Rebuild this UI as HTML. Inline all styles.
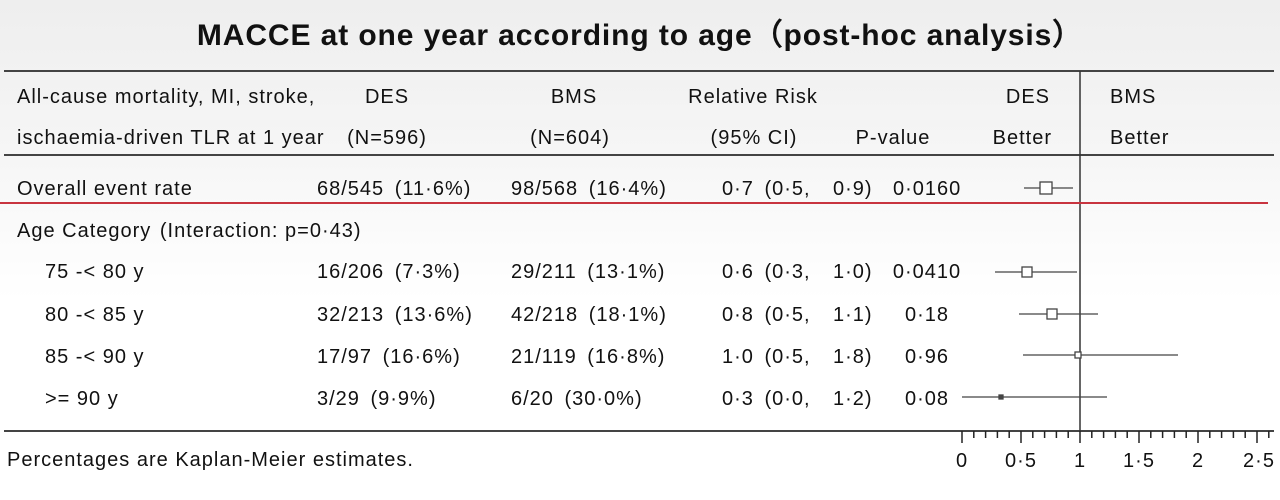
<!DOCTYPE html>
<html><head><meta charset="utf-8"><style>
html,body{margin:0;padding:0;background:#fff}
svg{display:block}
text{font-family:"Liberation Sans",sans-serif;font-size:20px;letter-spacing:1px;fill:#111}
</style></head><body>
<svg width="1280" height="500" viewBox="0 0 1280 500" xmlns="http://www.w3.org/2000/svg">
<defs><linearGradient id="bg" x1="0" y1="0" x2="0" y2="1">
<stop offset="0" stop-color="#eeeeee"/><stop offset="0.35" stop-color="#f7f7f7"/><stop offset="0.6" stop-color="#ffffff"/></linearGradient></defs>
<rect width="1280" height="500" fill="url(#bg)"/>
<text x="640" y="45" text-anchor="middle" style="font-size:30px;font-weight:bold;letter-spacing:0.9px">MACCE at one year according to age（post-hoc analysis）</text>
<line x1="4" y1="71" x2="1274" y2="71" stroke="#444" stroke-width="2"/>
<line x1="4" y1="155" x2="1274" y2="155" stroke="#444" stroke-width="2"/>
<line x1="4" y1="431" x2="1274" y2="431" stroke="#444" stroke-width="2"/>
<line x1="1080" y1="71" x2="1080" y2="431" stroke="#333" stroke-width="1.5"/>
<line x1="0" y1="203" x2="1268" y2="203" stroke="#c8343f" stroke-width="2"/>
<text x="17" y="103">All-cause mortality, MI, stroke,</text>
<text x="17" y="144">ischaemia-driven TLR at 1 year</text>
<text x="387" y="103" text-anchor="middle">DES</text>
<text x="387" y="144" text-anchor="middle">(N=596)</text>
<text x="574" y="103" text-anchor="middle">BMS</text>
<text x="570" y="144" text-anchor="middle">(N=604)</text>
<text x="753" y="103" text-anchor="middle">Relative Risk</text>
<text x="754" y="144" text-anchor="middle">(95% CI)</text>
<text x="893" y="144" text-anchor="middle">P-value</text>
<text x="1050" y="103" text-anchor="end">DES</text>
<text x="1052" y="144" text-anchor="end">Better</text>
<text x="1110" y="103">BMS</text>
<text x="1110" y="144">Better</text>
<text x="17" y="195">Overall event rate</text>
<text x="317" y="195">68/545 <tspan dx="4">(11·6%)</tspan></text>
<text x="511" y="195">98/568 <tspan dx="4">(16·4%)</tspan></text>
<text x="722" y="195">0·7 <tspan dx="4">(0·5,</tspan></text><text x="833" y="195">0·9)</text>
<text x="893" y="195">0·0160</text>
<text x="17" y="237">Age Category <tspan dx="2">(Interaction: p=0·43)</tspan></text>
<text x="45" y="278">75 -&lt; 80 y</text>
<text x="317" y="278">16/206 <tspan dx="4">(7·3%)</tspan></text>
<text x="511" y="278">29/211 <tspan dx="4">(13·1%)</tspan></text>
<text x="722" y="278">0·6 <tspan dx="4">(0·3,</tspan></text><text x="833" y="278">1·0)</text>
<text x="927" y="278" text-anchor="middle">0·0410</text>
<text x="45" y="321">80 -&lt; 85 y</text>
<text x="317" y="321">32/213 <tspan dx="4">(13·6%)</tspan></text>
<text x="511" y="321">42/218 <tspan dx="4">(18·1%)</tspan></text>
<text x="722" y="321">0·8 <tspan dx="4">(0·5,</tspan></text><text x="833" y="321">1·1)</text>
<text x="927" y="321" text-anchor="middle">0·18</text>
<text x="45" y="363">85 -&lt; 90 y</text>
<text x="317" y="363">17/97 <tspan dx="4">(16·6%)</tspan></text>
<text x="511" y="363">21/119 <tspan dx="4">(16·8%)</tspan></text>
<text x="722" y="363">1·0 <tspan dx="4">(0·5,</tspan></text><text x="833" y="363">1·8)</text>
<text x="927" y="363" text-anchor="middle">0·96</text>
<text x="45" y="405">&gt;= 90 y</text>
<text x="317" y="405">3/29 <tspan dx="4">(9·9%)</tspan></text>
<text x="511" y="405">6/20 <tspan dx="4">(30·0%)</tspan></text>
<text x="722" y="405">0·3 <tspan dx="4">(0·0,</tspan></text><text x="833" y="405">1·2)</text>
<text x="927" y="405" text-anchor="middle">0·08</text>
<text x="7" y="466">Percentages are Kaplan-Meier estimates.</text>
<g stroke="#444" stroke-width="1.3" fill="none">
<line x1="1024" y1="188" x2="1073" y2="188"/><rect x="1040" y="182" width="12" height="12" fill="#fff"/>
<line x1="995" y1="272" x2="1077" y2="272"/><rect x="1022" y="267" width="10" height="10" fill="#fff"/>
<line x1="1019" y1="314" x2="1098" y2="314"/><rect x="1047" y="309" width="10" height="10" fill="#fff"/>
<line x1="1023" y1="355" x2="1178" y2="355"/><rect x="1075" y="352" width="6" height="6" fill="#fff"/>
<line x1="962" y1="397" x2="1107" y2="397"/><rect x="999" y="395" width="4" height="4" fill="#444"/>
</g>
<g stroke="#222" stroke-width="1.5">
<line x1="962" y1="431" x2="962" y2="443"/><line x1="973.8" y1="431" x2="973.8" y2="438"/><line x1="985.6" y1="431" x2="985.6" y2="438"/><line x1="997.4" y1="431" x2="997.4" y2="438"/><line x1="1009.2" y1="431" x2="1009.2" y2="438"/><line x1="1021" y1="431" x2="1021" y2="443"/><line x1="1032.8" y1="431" x2="1032.8" y2="438"/><line x1="1044.6" y1="431" x2="1044.6" y2="438"/><line x1="1056.4" y1="431" x2="1056.4" y2="438"/><line x1="1068.2" y1="431" x2="1068.2" y2="438"/><line x1="1080" y1="431" x2="1080" y2="443"/><line x1="1091.8" y1="431" x2="1091.8" y2="438"/><line x1="1103.6" y1="431" x2="1103.6" y2="438"/><line x1="1115.4" y1="431" x2="1115.4" y2="438"/><line x1="1127.2" y1="431" x2="1127.2" y2="438"/><line x1="1139" y1="431" x2="1139" y2="443"/><line x1="1150.8" y1="431" x2="1150.8" y2="438"/><line x1="1162.6" y1="431" x2="1162.6" y2="438"/><line x1="1174.4" y1="431" x2="1174.4" y2="438"/><line x1="1186.2" y1="431" x2="1186.2" y2="438"/><line x1="1198" y1="431" x2="1198" y2="443"/><line x1="1209.8" y1="431" x2="1209.8" y2="438"/><line x1="1221.6" y1="431" x2="1221.6" y2="438"/><line x1="1233.4" y1="431" x2="1233.4" y2="438"/><line x1="1245.2" y1="431" x2="1245.2" y2="438"/><line x1="1257" y1="431" x2="1257" y2="443"/><line x1="1268.8" y1="431" x2="1268.8" y2="438"/>
</g>
<text x="962" y="467" text-anchor="middle">0</text>
<text x="1021" y="467" text-anchor="middle">0·5</text>
<text x="1080" y="467" text-anchor="middle">1</text>
<text x="1139" y="467" text-anchor="middle">1·5</text>
<text x="1198" y="467" text-anchor="middle">2</text>
<text x="1259" y="467" text-anchor="middle">2·5</text>
</svg>
</body></html>
